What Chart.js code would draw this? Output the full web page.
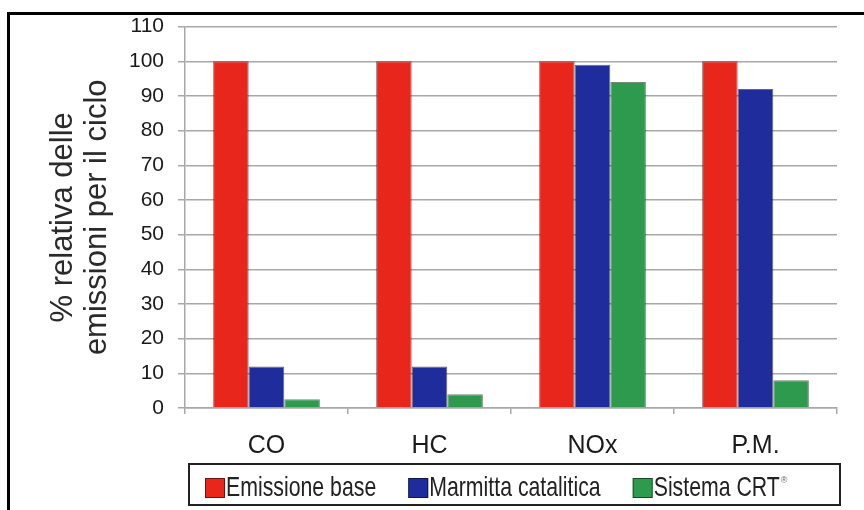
<!DOCTYPE html>
<html>
<head>
<meta charset="utf-8">
<script src="https://cdn.jsdelivr.net/npm/chart.js@4.4.1/dist/chart.umd.min.js"></script>
<style>
  html, body { margin: 0; padding: 0; background: #fff; }
  #wrap { width: 864px; height: 510px; }
</style>
</head>
<body>
<div id="wrap"><canvas id="emissioniChart" width="864" height="510"></canvas></div>
<script>
// Categorie e valori
const categories = ['CO', 'HC', 'NOx', 'P.M.'];
const emissioneBase = [100, 100, 100, 100];
const marmittaCatalitica = [12, 12, 99, 92];
const sistemaCRT = [2.5, 4, 94, 8];
const seriesLabels = ['Emissione base', 'Marmitta catalitica', 'Sistema CRT®'];
const yTitle = ['% relativa delle', 'emissioni per il ciclo'];
const yMin = 0, yMax = 110, yStep = 10;

const colRed = '#e8261c';
const colBlue = '#1f2c9c';
const colGreen = '#2d9a4e';
const gridGray = '#a8a8a8';

Chart.defaults.font.family = '"Liberation Sans", Arial, sans-serif';
Chart.defaults.color = '#222';

// cornice nera in alto e a sinistra
const framePlugin = {
    id: 'frame',
    beforeDraw(chart) {
        const ctx = chart.ctx;
        ctx.save();
        ctx.fillStyle = '#fff';
        ctx.fillRect(0, 0, chart.width, chart.height);
        ctx.strokeStyle = '#000';
        ctx.lineWidth = 3;
        ctx.beginPath();
        ctx.moveTo(chart.width, 13.5);
        ctx.lineTo(8.5, 13.5);
        ctx.lineTo(8.5, chart.height);
        ctx.stroke();
        ctx.restore();
    }
};

// legenda in un riquadro, testo stretto
const boxLegendPlugin = {
    id: 'boxLegend',
    afterDraw(chart) {
        const ctx = chart.ctx;
        ctx.save();
        ctx.strokeStyle = '#222';
        ctx.lineWidth = 2;
        ctx.strokeRect(189, 464, 651, 41);

        const squeeze = 0.76;
        let x = 205;
        chart.data.datasets.forEach((ds) => {
            ctx.fillStyle = ds.backgroundColor;
            ctx.fillRect(x, 478, 20, 20);
            ctx.strokeStyle = 'rgba(0,0,0,0.5)';
            ctx.lineWidth = 1;
            ctx.strokeRect(x + 0.5, 478.5, 19, 19);
            x += 21;

            let text = ds.label;
            let sup = '';
            if (text.endsWith('®')) { sup = '®'; text = text.slice(0, -1); }
            ctx.font = '28px "Liberation Sans", Arial, sans-serif';
            ctx.fillStyle = '#222';
            ctx.textBaseline = 'alphabetic';
            const w = ctx.measureText(text).width * squeeze;
            ctx.save();
            ctx.translate(x, 496);
            ctx.scale(squeeze, 1);
            ctx.fillText(text, 0, 0);
            ctx.restore();
            x += w;
            if (sup) {
                ctx.font = '9px "Liberation Sans", Arial, sans-serif';
                ctx.fillStyle = '#666';
                ctx.fillText(sup, x + 1, 483);
                x += 8;
            }
            x += 32;
        });
        ctx.restore();
    }
};

const ctxEmissioni = document.getElementById('emissioniChart').getContext('2d');

const emissioniChart = new Chart(ctxEmissioni, {
    type: 'bar',
    data: {
        labels: categories,
        datasets: [
            { label: seriesLabels[0], data: emissioneBase, backgroundColor: colRed, borderColor: 'rgba(60,0,0,0.55)', borderWidth: 1 },
            { label: seriesLabels[1], data: marmittaCatalitica, backgroundColor: colBlue, borderColor: 'rgba(0,0,30,0.6)', borderWidth: 1 },
            { label: seriesLabels[2], data: sistemaCRT, backgroundColor: colGreen, borderColor: 'rgba(0,40,0,0.55)', borderWidth: 1 }
        ]
    },
    options: {
        responsive: false,
        animation: false,
        devicePixelRatio: 1,
        layout: { padding: { left: 0, top: 25, right: 27, bottom: 0 } },
        plugins: {
            legend: { display: false },
            tooltip: { enabled: false }
        },
        datasets: {
            bar: { categoryPercentage: 0.655, barPercentage: 1.0 }
        },
        scales: {
            x: {
                grid: { display: true, offset: true, drawOnChartArea: false, drawTicks: true, tickLength: 6, color: gridGray, lineWidth: 1.5 },
                border: { display: true, color: gridGray, width: 1.5 },
                ticks: { font: { size: 25 }, color: '#1a1a1a', padding: 17 },
                afterFit(scale) { scale.height = 102; }
            },
            y: {
                min: yMin,
                max: yMax,
                grid: { color: gridGray, lineWidth: 1.5, tickLength: 7 },
                border: { display: true, color: gridGray, width: 1.5 },
                ticks: { stepSize: yStep, font: { size: 21 }, color: '#1a1a1a', padding: 14 },
                title: {
                    display: true,
                    text: yTitle,
                    font: { size: 31, lineHeight: 1.1 },
                    color: '#2a2a2a',
                    padding: { top: 46, bottom: 0 }
                },
                afterFit(scale) { scale.width = 185; }
            }
        }
    },
    plugins: [framePlugin, boxLegendPlugin]
});
</script>
</body>
</html>
